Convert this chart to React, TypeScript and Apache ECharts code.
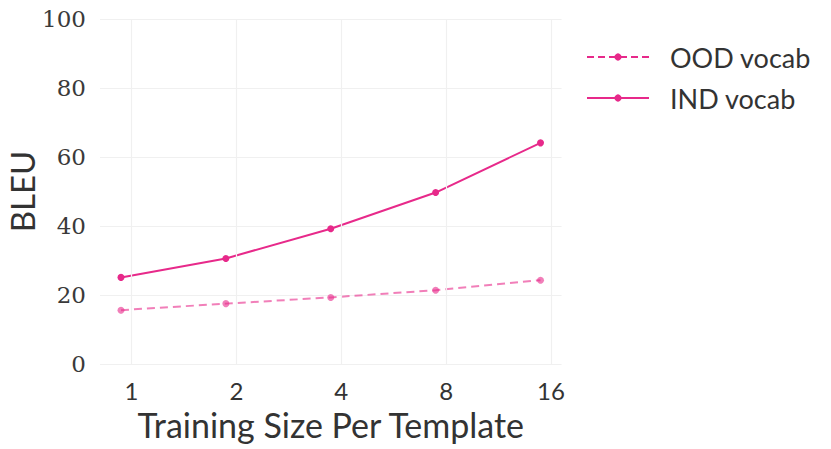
import React, { useEffect, useRef } from "react";
import * as echarts from "echarts";

const trainingSizes = [1, 2, 4, 8, 16];
const oodBleu = [15.6, 17.5, 19.3, 21.4, 24.3];
const indBleu = [25.1, 30.6, 39.2, 49.7, 64.1];
const yTicks = [0, 20, 40, 60, 80, 100];

const PINK = "#e7298a";
const DODGE = -0.1;
const SANS = "Lato";
const SERIF = "DejaVu Serif";
const TEXT = "#333333";

export default function App() {
  const ref = useRef<HTMLDivElement>(null);
  useEffect(() => {
    document.body.style.margin = "0";
    const chart = echarts.init(ref.current!, null, { renderer: "svg" });
    const xs = trainingSizes.map((s) => Math.log2(s));
    const gridLeft = 100;
    const gridRight = 269.5;
    const gridTop = 19;
    const gridBottom = 85;
    const legendX = 587;
    const legendRows = [
      { name: "OOD vocab", y: 57, dashed: true },
      { name: "IND vocab", y: 98, dashed: false },
    ];
    const legendGraphics: any[] = [];
    legendRows.forEach((r) => {
      legendGraphics.push({
        type: "line",
        shape: { x1: legendX, y1: r.y, x2: legendX + 62, y2: r.y },
        style: { stroke: PINK, lineWidth: 2.2, lineDash: r.dashed ? [7, 4] : null },
      });
      legendGraphics.push({
        type: "circle",
        shape: { cx: legendX + 31, cy: r.y, r: 3.6 },
        style: { fill: PINK },
      });
      legendGraphics.push({
        type: "text",
        x: 670,
        y: r.y,
        style: {
          text: r.name,
          fill: TEXT,
          fontFamily: SANS,
          fontSize: 27,
          align: "left",
          verticalAlign: "middle",
        },
      });
    });
    chart.setOption({
      animation: false,
      grid: { left: gridLeft, right: gridRight, top: gridTop, bottom: gridBottom },
      xAxis: {
        type: "value",
        min: -0.3,
        max: 4.1,
        axisLine: { show: false },
        axisTick: { show: false },
        splitLine: { show: false },
        axisLabel: {
          customValues: xs,
          formatter: (v: number) => String(Math.round(Math.pow(2, v))),
          color: TEXT,
          fontFamily: SANS,
          fontSize: 24,
          lineHeight: 24,
          margin: 14,
        },
      },
      yAxis: {
        type: "value",
        min: yTicks[0],
        max: yTicks[yTicks.length - 1],
        interval: 20,
        axisLine: { show: false },
        axisTick: { show: false },
        splitLine: { lineStyle: { color: "#f0f0f0", width: 1.2 } },
        axisLabel: {
          color: "#3a3a3a",
          fontFamily: SERIF,
          fontSize: 23,
          margin: 14,
        },
      },
      series: [
        {
          name: "OOD vocab",
          type: "line",
          data: xs.map((x, i) => [x + DODGE, oodBleu[i]]),
          symbol: "circle",
          symbolSize: 7,
          itemStyle: { color: PINK, opacity: 0.6 },
          lineStyle: { color: PINK, width: 2, type: [8, 5], opacity: 0.6 },
          markLine: {
            silent: true,
            symbol: "none",
            label: { show: false },
            lineStyle: { color: "#f0f0f0", width: 1.2, type: "solid" },
            data: xs.map((x) => ({ xAxis: x })),
          },
          z: 2,
        },
        {
          name: "IND vocab",
          type: "line",
          data: xs.map((x, i) => [x + DODGE, indBleu[i]]),
          symbol: "circle",
          symbolSize: 7,
          itemStyle: { color: PINK },
          lineStyle: { color: PINK, width: 2 },
          z: 3,
        },
      ],
      graphic: [
        {
          type: "text",
          x: (gridLeft + (831 - gridRight)) / 2,
          y: 424,
          style: {
            text: "Training Size Per Template",
            fill: TEXT,
            fontFamily: SANS,
            fontSize: 34,
            align: "center",
            verticalAlign: "middle",
          },
        },
        {
          type: "text",
          x: 22,
          y: (gridTop + (449 - gridBottom)) / 2,
          rotation: Math.PI / 2,
          style: {
            text: "BLEU",
            fill: TEXT,
            fontFamily: SANS,
            fontSize: 33,
            align: "center",
            verticalAlign: "middle",
          },
        },
        ...legendGraphics,
      ],
    });
    return () => chart.dispose();
  }, []);
  return <div ref={ref} style={{ width: 831, height: 449 }} />;
}
